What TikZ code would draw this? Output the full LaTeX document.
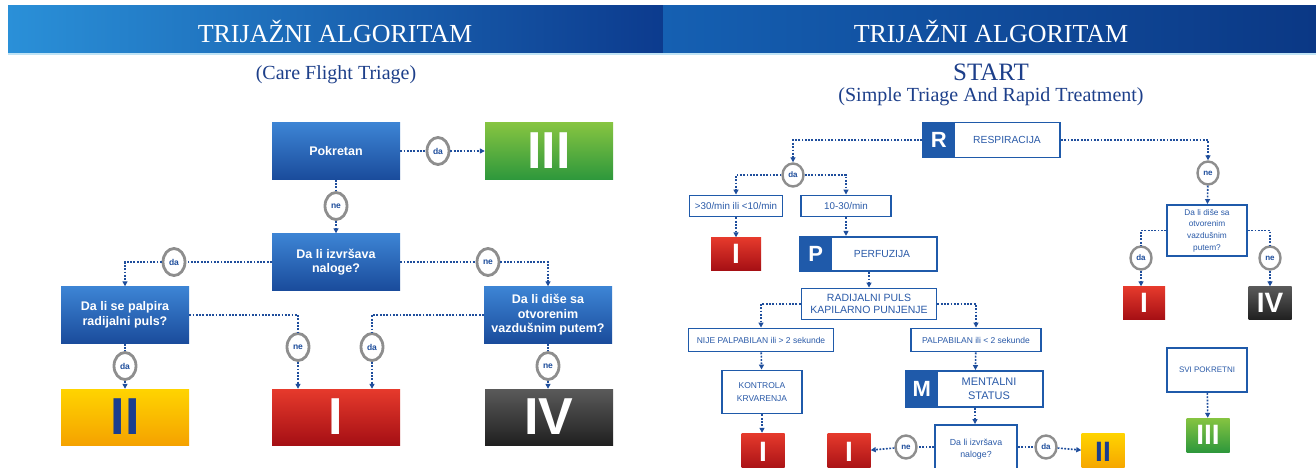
\documentclass[tikz,border=0pt]{standalone}
\usepackage{fontspec}
\setmainfont{Liberation Serif}
\setsansfont{Liberation Sans}
\usetikzlibrary{shapes.geometric,arrows.meta,calc}
\definecolor{lnblue}{HTML}{1F4E9C}
\definecolor{txtblue}{HTML}{2A5AA8}
\definecolor{subblue}{HTML}{1D3F8A}
\definecolor{ringgray}{HTML}{8E8E8E}
\definecolor{qtop}{HTML}{3D84D4}
\definecolor{qbot}{HTML}{1A4C9C}
\definecolor{gtop}{HTML}{86C441}
\definecolor{gbot}{HTML}{2E983C}
\definecolor{ytop}{HTML}{FFD400}
\definecolor{ybot}{HTML}{F5A200}
\definecolor{rtop}{HTML}{E63A2C}
\definecolor{rbot}{HTML}{A50F14}
\definecolor{dtop}{HTML}{5A5A5A}
\definecolor{dbot}{HTML}{202020}
\definecolor{numblue}{HTML}{1B3E8E}
\definecolor{hA}{HTML}{2A90D8}
\definecolor{hB}{HTML}{1A68BC}
\definecolor{hC}{HTML}{0C3B8E}
\definecolor{hD}{HTML}{1560B2}
\definecolor{hE}{HTML}{2B90D6}
\definecolor{hF}{HTML}{0B3885}
\definecolor{hline}{HTML}{BFE3F5}
\definecolor{letblue}{HTML}{1F5AAA}
\begin{document}
\begin{tikzpicture}[x=1pt,y=-1pt,
  title/.style={text=white,font=\fontsize{26}{30}\selectfont,inner sep=0},
  subt/.style={text=subblue,font=\fontsize{20}{24}\selectfont,inner sep=0},
  qbox/.style={rectangle,top color=qtop,bottom color=qbot,text=white,
    font=\sffamily\bfseries\fontsize{12.5}{14.5}\selectfont,align=center,
    minimum width=128,minimum height=57,inner sep=0},
  grade/.style={rectangle,minimum width=128,minimum height=56,inner sep=0,
    font=\sffamily\bfseries\fontsize{52}{52}\selectfont,text=white},
  sgrade/.style={rectangle,inner sep=0,
    font=\sffamily\bfseries\fontsize{28}{28}\selectfont,text=white},
  gG/.style={top color=gtop,bottom color=gbot},
  gY/.style={top color=ytop,bottom color=ybot,text=numblue},
  gR/.style={top color=rtop,bottom color=rbot},
  gD/.style={top color=dtop,bottom color=dbot},
  circA/.style={ellipse,draw=ringgray,line width=2.8pt,fill=white,text=lnblue,
    font=\sffamily\bfseries\fontsize{8.5}{8.5}\selectfont,
    minimum width=22,minimum height=27,inner sep=0},
  circB/.style={ellipse,draw=ringgray,line width=2.4pt,fill=white,text=lnblue,
    font=\sffamily\bfseries\fontsize{8}{8}\selectfont,
    minimum width=21,minimum height=23,inner sep=0},
  obox/.style={rectangle,draw=letblue,line width=1.9pt,fill=white,text=txtblue,
    font=\sffamily\fontsize{9.5}{11}\selectfont,align=center,inner sep=0},
  otext/.style={text=txtblue,font=\sffamily\fontsize{10.3}{12}\selectfont,align=center,inner sep=0},
  letter/.style={rectangle,fill=letblue,text=white,inner sep=0,
    font=\sffamily\bfseries\fontsize{22}{22}\selectfont},
  conn/.style={draw=lnblue,line width=1.6pt,dash pattern=on 1.8pt off 1.5pt},
  arr/.style={-{Triangle[length=5pt,width=5pt]}}
]
\useasboundingbox (0,0) rectangle (1316,468);
\clip (0,0) rectangle (1316,468);
\fill[white] (0,0) rectangle (1316,468);
% header bars
\shade[left color=hA,middle color=hB,right color=hC] (8,6) rectangle (663,54);
\shade[left color=hD,middle color=hE,right color=hF] (663,6) rectangle (1316,54);
\fill[hline] (8,53) rectangle (1316,55.5);
\node[title] (t1) at (335,31) {TRIJAŽNI ALGORITAM};
\node[title] (t2) at (991,31) {TRIJAŽNI ALGORITAM};
\node[subt] (s1) at (336,75) {(Care Flight Triage)};
\node[subt,font=\fontsize{25}{28}\selectfont] (s2) at (991,72) {START};
\node[subt] (s3) at (991,97) {(Simple Triage And Rapid Treatment)};

% ---------- left: Care Flight Triage ----------
\node[qbox] (pok) at (336,151) {Pokretan};
\node[grade,gG] (g3) at (549,151) {III};
\node[circA] (c1) at (438,151) {da};
\node[circA] (c2) at (336,206) {ne};
\node[qbox] (izv) at (336,262) {Da li izvršava\\naloge?};
\node[circA] (c3) at (174,262) {da};
\node[circA] (c4) at (488,262) {ne};
\node[qbox] (palp) at (125,315) {Da li se palpira\\radijalni puls?};
\node[qbox] (dise) at (548,315) {Da li diše sa\\otvorenim\\vazdušnim putem?};
\node[circA] (c5) at (298,347) {ne};
\node[circA] (c6) at (372,347) {da};
\node[circA] (c7) at (125,366) {da};
\node[circA] (c8) at (548,366) {ne};
\node[grade,gY] (g2) at (125,417) {II};
\node[grade,gR] (g1) at (336,417) {I};
\node[grade,gD] (g4) at (549,417) {IV};

\draw[conn] (pok) -- (c1);
\draw[conn,arr] (c1) -- (g3);
\draw[conn] (pok) -- (c2);
\draw[conn,arr] (c2) -- (izv);
\draw[conn] (izv) -- (c3);
\draw[conn,arr] (c3) -| (palp.north);
\draw[conn] (izv) -- (c4);
\draw[conn,arr] (c4) -| (dise.north);
\draw[conn] (palp.east) -| (c5.north);
\draw[conn,arr] (c5) -- (c5 |- g1.north);
\draw[conn] (dise.west) -| (c6.north);
\draw[conn,arr] (c6) -- (c6 |- g1.north);
\draw[conn] (palp) -- (c7);
\draw[conn,arr] (c7) -- (g2);
\draw[conn] (dise) -- (c8);
\draw[conn,arr] (c8) -- (g4.north -| c8);

% ---------- right: START ----------
\node[obox,minimum width=136,minimum height=35] (resp) at (992,140) {};
\node[letter,anchor=west,minimum width=33,minimum height=36.9] (rL) at ([xshift=-0.95pt]resp.west) {R};
\node[otext] (respT) at (1007,140) {RESPIRACIJA};
\node[circB] (daT) at (793,175) {da};
\node[circB] (neT) at (1208,173) {ne};
\node[obox,minimum width=93,minimum height=21,font=\sffamily\fontsize{9.8}{11}\selectfont] (b30) at (736,206) {>30/min ili <10/min};
\node[obox,minimum width=90,minimum height=21,font=\sffamily\fontsize{9.8}{11}\selectfont] (b1030) at (846,206) {10-30/min};
\node[sgrade,gR,minimum width=50,minimum height=33] (r1) at (736,254) {I};
\node[obox,minimum width=136,minimum height=34] (perf) at (869,254) {};
\node[letter,anchor=west,minimum width=33,minimum height=35.9] (pL) at ([xshift=-0.95pt]perf.west) {P};
\node[otext] (perfT) at (882,254) {PERFUZIJA};
\node[obox,minimum width=135,minimum height=31,font=\sffamily\fontsize{10.5}{11.5}\selectfont] (rad) at (869,304) {RADIJALNI PULS\\KAPILARNO PUNJENJE};
\node[obox,minimum width=145,minimum height=23,font=\sffamily\fontsize{8.5}{10}\selectfont] (nije) at (761,340) {NIJE PALPABILAN ili > 2 sekunde};
\node[obox,minimum width=130,minimum height=23,font=\sffamily\fontsize{8.5}{10}\selectfont] (palpab) at (976,340) {PALPABILAN ili < 2 sekunde};
\node[obox,minimum width=80,minimum height=43,font=\sffamily\fontsize{8.5}{13}\selectfont] (kon) at (762,392) {KONTROLA\\KRVARENJA};
\node[sgrade,gR,minimum width=43,minimum height=38] (r2) at (763,452) {I};
\node[obox,minimum width=136,minimum height=36] (ment) at (975,389) {};
\node[letter,anchor=west,minimum width=33,minimum height=37.9] (mL) at ([xshift=-0.95pt]ment.west) {M};
\node[otext,font=\sffamily\fontsize{11}{14}\selectfont] (mentT) at (989,389) {MENTALNI\\STATUS};
\node[obox,minimum width=82,minimum height=48,font=\sffamily\fontsize{8.8}{12}\selectfont] (izvR) at (976,449) {Da li izvršava\\naloge?};
\node[circB] (neB) at (906,447) {ne};
\node[circB] (daB) at (1046,447) {da};
\node[sgrade,gR,minimum width=43,minimum height=38] (r3) at (849,452) {I};
\node[sgrade,gY,minimum width=43,minimum height=38] (y2) at (1103,452) {II};
\node[obox,minimum width=80,minimum height=51,font=\sffamily\fontsize{8.3}{11.6}\selectfont] (diseR) at (1207,230.5) {Da li diše sa\\otvorenim\\vazdušnim\\putem?};
\node[circB] (daD) at (1141,258) {da};
\node[circB] (neD) at (1270,258) {ne};
\node[sgrade,gR,minimum width=42,minimum height=33] (r4) at (1144,303) {I};
\node[sgrade,gD,minimum width=43,minimum height=33] (d4) at (1270,303) {IV};
\node[obox,minimum width=80,minimum height=44,font=\sffamily\fontsize{8}{9}\selectfont] (svi) at (1207,370) {SVI POKRETNI};
\node[sgrade,gG,minimum width=43,minimum height=34] (g3s) at (1208,435) {III};

\draw[conn,arr] (rL.west) -| (daT.north);
\draw[conn,arr] (resp.east) -| (neT.north);
\draw[conn,arr] (daT.west) -| (b30.north);
\draw[conn,arr] (daT.east) -| (b1030.north);
\draw[conn,arr] (b30.south) -- (b30.south |- r1.north);
\draw[conn,arr] (b1030.south) -- (b1030.south |- pL.north);
\draw[conn,arr] (perf) -- (rad);
\draw[conn,arr] (rad.west) -| (nije.north);
\draw[conn,arr] (rad.east) -| (palpab.north);
\draw[conn,arr] (nije) -- (kon);
\draw[conn,arr] (kon.south) -- (kon.south |- r2.north);
\draw[conn,arr] (palpab) -- (ment);
\draw[conn,arr] (ment.south) -- (ment.south |- izvR.north);
\draw[conn] (izvR.west |- neB) -- (neB);
\draw[conn,arr] (neB) -- (r3);
\draw[conn] (izvR.east |- daB) -- (daB);
\draw[conn,arr] (daB) -- (y2);
\draw[conn,arr] (neT) -- (diseR);
\draw[conn] (diseR.west) -| (daD.north);
\draw[conn,arr] (daD) -- (daD |- r4.north);
\draw[conn] (diseR.east) -| (neD.north);
\draw[conn,arr] (neD) -- (d4);
\draw[conn,arr] (svi) -- (g3s);
\end{tikzpicture}
\end{document}
